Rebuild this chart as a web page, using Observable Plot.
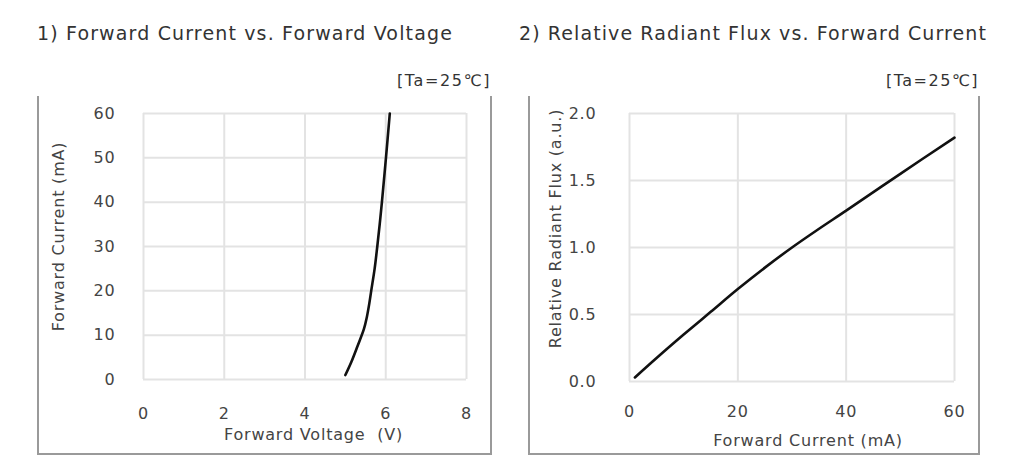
<!DOCTYPE html>
<html><head><meta charset="utf-8">
<script src="https://cdn.jsdelivr.net/npm/d3@7"></script>
<script src="https://cdn.jsdelivr.net/npm/@observablehq/plot@0.6"></script>
<style>
html,body{margin:0;padding:0;background:#fff}
body{font-family:"DejaVu Sans",sans-serif;width:1012px;height:457px;position:relative;overflow:hidden}
.title{position:absolute;font-size:19px;color:#333;white-space:nowrap;line-height:1}
.ta{position:absolute;font-size:16px;color:#333;white-space:nowrap;line-height:1}
.box{position:absolute;border:2px solid #9a9a9a;border-top:none;box-sizing:border-box}
.chart{position:absolute}
</style></head><body>
<div class="title" id="t1" style="left:37px;top:24px">1) Forward Current vs. Forward Voltage</div>
<div class="title" id="t2" style="left:519px;top:24px">2) Relative Radiant Flux vs. Forward Current</div>
<div class="ta" id="ta1" style="left:397px;top:73px">[Ta=25℃]</div>
<div class="ta" id="ta2" style="left:886px;top:73px">[Ta=25℃]</div>
<div class="box" style="left:37px;top:96px;width:455px;height:359px"></div>
<div class="box" style="left:528px;top:96px;width:452px;height:359px"></div>
<div class="chart" id="c1" style="left:37px;top:96px"></div>
<div class="chart" id="c2" style="left:528px;top:96px"></div>
<script>
// Chart 1: Forward Current vs. Forward Voltage
const forwardVoltage = [5.0, 5.15, 5.3, 5.46, 5.53, 5.59, 5.64, 5.725, 5.79, 5.85, 5.905, 6.005, 6.10];
const forwardCurrentA = [1, 4, 7.5, 11.4, 14, 17, 20, 25, 30, 35, 40, 50, 60];
const xTicksA = [0, 2, 4, 6, 8];
const yTicksA = [0, 10, 20, 30, 40, 50, 60];

// Chart 2: Relative Radiant Flux vs. Forward Current
const forwardCurrentB = [1, 5, 10, 15, 20, 25, 30, 35, 40, 50, 60];
const radiantFlux = [0.03, 0.175, 0.35, 0.52, 0.69, 0.85, 1.0, 1.14, 1.275, 1.55, 1.82];
const xTicksB = [0, 20, 40, 60];
const yTicksB = [0, 0.5, 1.0, 1.5, 2.0];

const dataA = forwardVoltage.map((v, i) => ({v, i: forwardCurrentA[i]}));
const dataB = forwardCurrentB.map((c, i) => ({c, f: radiantFlux[i]}));

const gridStyle = {stroke: "#e3e3e3", strokeOpacity: 1, strokeWidth: 2};
const baseStyle = {fontFamily: '"DejaVu Sans", sans-serif', fontSize: "16px", letterSpacing: "0.8px", color: "#444", background: "transparent", overflow: "visible"};
const labelOpts = {fill: "#444", fontSize: 16, textAnchor: "middle", lineAnchor: "middle"};

const p1 = Plot.plot({
  width: 455, height: 359,
  marginLeft: 106, marginRight: 26, marginTop: 17, marginBottom: 76,
  style: baseStyle,
  x: {domain: [0, 8]},
  y: {domain: [0, 60]},
  marks: [
    Plot.gridX(xTicksA, gridStyle),
    Plot.gridY(yTicksA, gridStyle),
    Plot.axisX(xTicksA, {tickSize: 0, tickPadding: 28, label: null, fill: "#444"}),
    Plot.axisY(yTicksA, {tickSize: 0, tickPadding: 28, label: null, fill: "#444"}),
    Plot.text(["Forward Voltage  (V)"], {...labelOpts, frameAnchor: "bottom", dx: 8.5, dy: 55}),
    Plot.text(["Forward Current (mA)"], {...labelOpts, frameAnchor: "left", rotate: -90, dx: -85, dy: -10}),
    Plot.line(dataA, {x: "v", y: "i", stroke: "#111", strokeWidth: 2.6, curve: "catmull-rom"})
  ]
});
document.getElementById("c1").appendChild(p1);

const p2 = Plot.plot({
  width: 452, height: 359,
  marginLeft: 101, marginRight: 26, marginTop: 17, marginBottom: 74,
  style: baseStyle,
  x: {domain: [0, 60]},
  y: {domain: [0, 2]},
  marks: [
    Plot.gridX(xTicksB, gridStyle),
    Plot.gridY(yTicksB, gridStyle),
    Plot.axisX(xTicksB, {tickSize: 0, tickPadding: 24, label: null, fill: "#444"}),
    Plot.axisY(yTicksB, {tickSize: 0, tickPadding: 33, label: null, tickFormat: d3.format(".1f"), fill: "#444"}),
    Plot.text(["Forward Current (mA)"], {...labelOpts, frameAnchor: "bottom", dx: 16, dy: 59}),
    Plot.text(["Relative Radiant Flux (a.u.)"], {...labelOpts, frameAnchor: "left", rotate: -90, dx: -74, dy: -19, letterSpacing: "0.4px"}),
    Plot.line(dataB, {x: "c", y: "f", stroke: "#111", strokeWidth: 2.6, curve: "catmull-rom"})
  ]
});
document.getElementById("c2").appendChild(p2);

// stretch the HTML titles to the reference widths with letter spacing
function fit(id, target) {
  const el = document.getElementById(id);
  const n = el.textContent.length;
  const w = el.getBoundingClientRect().width;
  el.style.letterSpacing = ((target - w) / n) + "px";
}
fit("t1", 416);
fit("t2", 468);
fit("ta1", 94);
fit("ta2", 93);
</script>
</body></html>
